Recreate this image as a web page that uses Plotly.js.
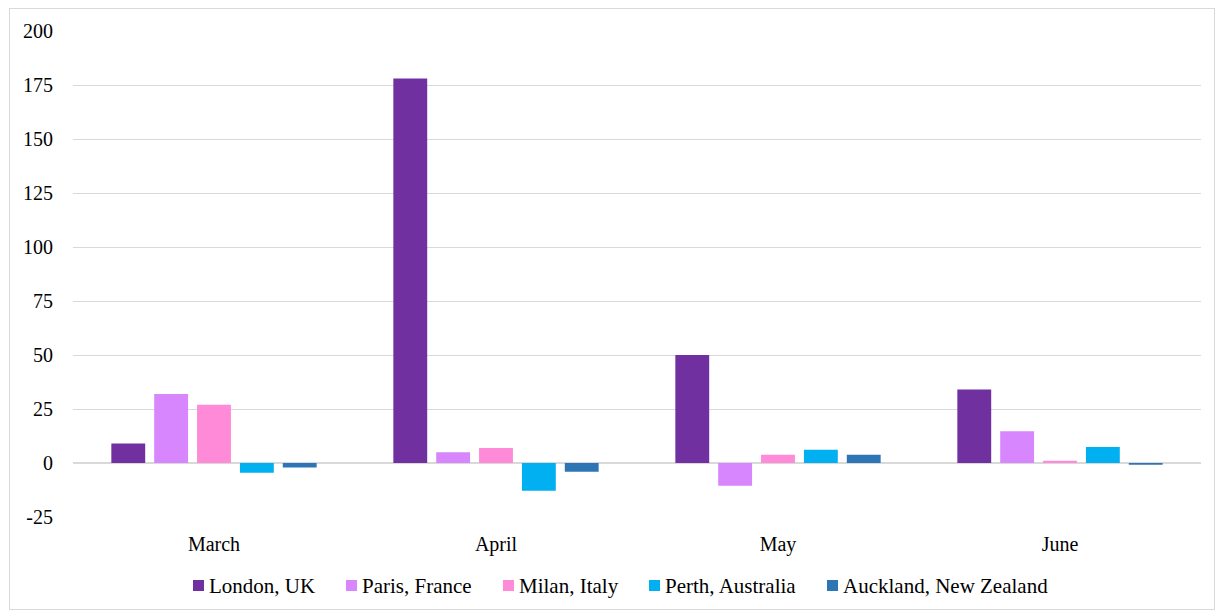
<!DOCTYPE html>
<html>
<head>
<meta charset="utf-8">
<script src="https://cdn.plot.ly/plotly-3.0.1.min.js"></script>
<style>
html,body{margin:0;padding:0;background:#fff;}
#wrap{position:relative;width:1218px;height:613px;}
#chart{width:1218px;height:613px;}
#frame{position:absolute;left:9px;top:8px;width:1206px;height:602px;border:1px solid #d9d9d9;box-sizing:border-box;pointer-events:none;}
</style>
</head>
<body>
<div id="wrap"><div id="chart"></div><div id="frame"></div></div>
<script>
const months = ["March", "April", "May", "June"];
const seriesNames = ["London, UK", "Paris, France", "Milan, Italy", "Perth, Australia", "Auckland, New Zealand"];
const london = [9, 178, 50, 34];
const paris = [32, 5, -10.5, 14.7];
const milan = [27, 7, 3.8, 1];
const perth = [-4.5, -12.8, 6.1, 7.4];
const auckland = [-2.1, -4.1, 3.8, -0.8];
const yTicks = [-25, 0, 25, 50, 75, 100, 125, 150, 175, 200];
const colors = ["#7030A0", "#D786FE", "#FF8AD8", "#00B0F0", "#2E75B6"];

const values = [london, paris, milan, perth, auckland];
const traces = values.map((v, i) => ({
  type: "bar",
  name: seriesNames[i],
  x: months,
  y: v,
  marker: {color: colors[i], line: {width: 0}},
  hoverinfo: "x+y+name"
}));

const font = {family: "Liberation Serif, Times New Roman, serif", size: 20, color: "#000"};
const legendFont = {family: "Liberation Serif, Times New Roman, serif", size: 21, color: "#000"};

// plot area geometry (pixels)
const M = {l: 73, r: 17, t: 31, b: 96};
const PW = 1218 - M.l - M.r, PH = 613 - M.t - M.b;
const px2x = p => (p - M.l) / PW;
const px2y = p => (613 - M.b - p) / PH;

// custom legend layout (swatch left edges in pixels)
const legendSwatchX = [193, 346, 503, 649, 827];
const swatchSize = 11, legendCY = 585.5, textGap = 3;
const shapes = [], annotations = [];
seriesNames.forEach((name, i) => {
  const x0 = legendSwatchX[i];
  shapes.push({
    type: "rect", xref: "paper", yref: "paper",
    x0: px2x(x0), x1: px2x(x0 + swatchSize),
    y0: px2y(legendCY - swatchSize / 2), y1: px2y(legendCY + swatchSize / 2),
    fillcolor: colors[i], line: {width: 0}
  });
  annotations.push({
    xref: "paper", yref: "paper",
    x: px2x(x0 + swatchSize + textGap), y: px2y(legendCY),
    xanchor: "left", yanchor: "middle",
    text: name, showarrow: false, font: legendFont
  });
});

const layout = {
  width: 1218,
  height: 613,
  margin: M,
  paper_bgcolor: "rgba(0,0,0,0)",
  plot_bgcolor: "#fff",
  font: font,
  barmode: "group",
  bargap: 0.24,
  bargroupgap: 0.21,
  showlegend: false,
  shapes: shapes,
  annotations: annotations,
  xaxis: {
    type: "category",
    showgrid: false,
    showline: false,
    zeroline: false,
    ticks: "",
    tickfont: font,
    ticklabelstandoff: 13,
    fixedrange: true
  },
  yaxis: {
    range: [-25, 200],
    tickvals: yTicks,
    ticktext: yTicks.map(String),
    showgrid: true,
    gridcolor: "#d9d9d9",
    gridwidth: 1,
    zeroline: true,
    zerolinecolor: "#d9d9d9",
    zerolinewidth: 2,
    showline: false,
    ticks: "",
    tickfont: font,
    ticklabelstandoff: 19,
    fixedrange: true
  }
};

Plotly.newPlot("chart", traces, layout, {displayModeBar: false, staticPlot: true});
</script>
</body>
</html>
